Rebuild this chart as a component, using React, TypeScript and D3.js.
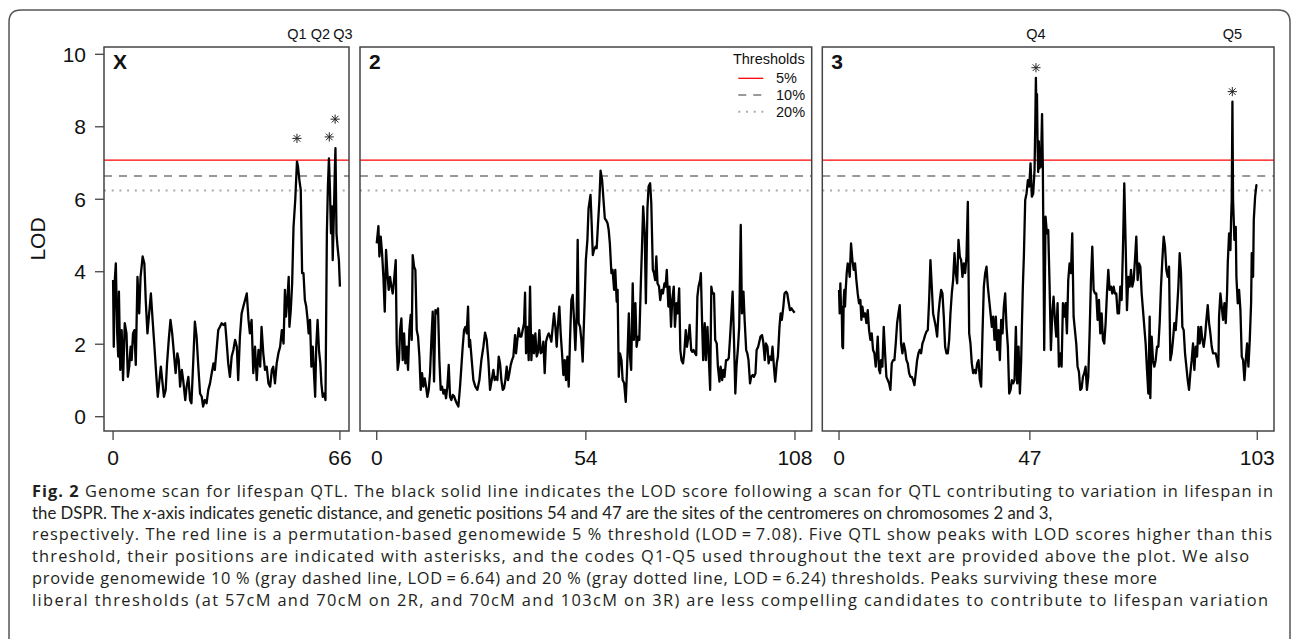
import React from "react";
import * as d3 from "d3";

// ---------- data (cM position, LOD) ----------
const chrXScan: [number, number][] = [[0,3.77],[0.2,1.93],[0.5,3.77],[0.8,4.23],[1.2,2.30],[1.5,1.66],[1.7,3.45],[2.1,1.29],[2.5,2.39],[2.9,1.01],[3.4,2.58],[3.9,2.30],[4.3,1.10],[4.7,1.38],[5.1,1.93],[5.4,1.56],[5.8,2.30],[6.2,2.39],[6.6,1.43],[7.1,3.86],[7.6,2.85],[8.0,3.86],[8.6,4.42],[9.1,4.23],[9.5,3.22],[10.0,2.30],[10.5,2.85],[11.0,3.40],[11.5,2.67],[12.1,1.84],[12.6,1.10],[13.0,0.55],[13.4,0.92],[13.9,1.38],[14.3,1.01],[14.8,0.55],[15.3,0.74],[15.7,1.47],[16.2,2.12],[16.7,2.67],[17.2,2.30],[17.7,1.75],[18.2,1.20],[18.7,1.75],[19.1,1.56],[19.5,0.83],[20.0,1.29],[20.4,1.01],[21.0,0.46],[21.4,0.83],[21.9,1.10],[22.4,0.46],[22.8,0.37],[23.3,1.47],[23.8,2.62],[24.3,2.21],[24.8,1.38],[25.3,0.64],[25.8,0.55],[26.2,0.28],[26.7,0.46],[27.2,0.37],[27.7,0.74],[28.2,0.92],[28.7,1.20],[29.2,1.47],[29.6,1.29],[30.1,1.84],[30.6,2.39],[31.1,2.48],[31.6,2.58],[32.1,2.53],[32.6,2.58],[33.0,2.12],[33.5,1.47],[34.0,1.10],[34.5,1.66],[35.0,1.84],[35.5,2.12],[36.0,1.93],[36.4,1.01],[36.9,2.21],[37.4,2.85],[37.9,3.04],[38.4,3.22],[38.9,3.40],[39.4,2.67],[39.8,2.30],[40.3,2.67],[40.8,1.20],[41.3,1.93],[41.8,1.01],[42.3,1.84],[42.8,1.38],[43.2,2.48],[43.7,1.75],[44.2,1.29],[44.7,1.38],[45.2,0.92],[45.7,0.83],[46.2,1.29],[46.6,1.38],[47.1,0.92],[47.6,1.47],[48.1,1.75],[48.6,1.93],[49.1,2.39],[49.6,2.02],[50.0,3.50],[50.3,2.76],[50.7,3.22],[51.1,3.86],[51.3,2.48],[51.7,2.94],[52.1,3.68],[52.5,5.24],[53.0,5.98],[53.5,7.04],[53.8,6.90],[54.2,6.53],[54.6,6.26],[55.0,3.96],[55.4,3.96],[55.8,3.22],[56.2,3.04],[56.6,2.67],[56.9,2.30],[57.3,2.67],[57.7,1.38],[58.1,1.93],[58.5,1.10],[58.8,0.55],[59.1,1.93],[59.5,2.67],[59.9,1.84],[60.3,1.47],[60.6,0.92],[61.0,0.55],[61.4,0.64],[61.8,0.46],[62.2,5.06],[62.5,6.35],[62.8,7.13],[63.1,6.26],[63.4,5.06],[63.7,5.80],[63.9,4.32],[64.2,5.43],[64.5,6.72],[64.7,7.41],[65.0,5.06],[65.3,4.69],[65.7,4.32],[66.0,3.59]];

const chr2Scan: [number, number][] = [[0,4.78],[0.43,5.26],[0.69,4.42],[1.03,4.97],[1.38,4.51],[1.72,3.86],[2.07,2.90],[2.41,4.60],[2.75,3.96],[3.10,3.50],[3.44,3.86],[3.79,3.59],[4.13,3.40],[4.48,3.77],[4.91,4.32],[5.16,2.02],[5.42,1.29],[5.77,1.56],[6.02,2.39],[6.37,2.71],[6.71,1.56],[7.06,2.30],[7.40,1.47],[7.75,1.93],[8.09,1.29],[8.43,2.39],[8.78,2.81],[9.04,2.12],[9.29,4.46],[9.64,4.14],[9.98,4.05],[10.33,2.39],[10.67,2.21],[11.02,1.66],[11.36,0.74],[11.70,1.20],[12.05,0.83],[12.39,1.06],[12.74,0.83],[13.08,0.55],[13.43,0.74],[13.77,1.20],[14.11,2.12],[14.46,2.90],[14.80,0.97],[15.15,2.94],[15.49,2.85],[15.83,2.99],[16.18,1.56],[16.52,0.74],[16.87,0.83],[17.21,0.64],[17.56,0.74],[17.90,0.51],[18.24,0.83],[18.59,1.43],[18.93,0.55],[19.28,0.46],[19.62,0.60],[19.97,0.57],[20.31,0.46],[20.65,0.37],[21.08,0.28],[21.51,0.83],[21.86,1.38],[22.20,1.93],[22.55,2.39],[22.89,2.48],[23.24,2.30],[23.58,3.04],[23.84,1.93],[24.10,2.12],[24.53,1.56],[24.96,1.01],[25.47,0.83],[25.99,0.74],[26.51,1.01],[27.02,1.56],[27.54,1.93],[27.97,2.32],[28.40,2.12],[28.83,1.56],[29.26,0.74],[29.69,1.01],[30.12,1.29],[30.46,1.01],[30.81,1.10],[31.15,1.01],[31.50,1.66],[31.84,1.47],[32.19,1.01],[32.53,0.74],[32.87,0.78],[33.22,1.01],[33.56,1.38],[33.91,1.01],[34.25,1.20],[34.60,1.43],[34.94,1.56],[35.28,1.66],[35.71,2.25],[35.97,1.75],[36.32,2.12],[36.66,2.44],[37.01,2.21],[37.35,2.21],[37.69,2.39],[38.04,2.58],[38.30,3.42],[38.55,1.75],[38.90,2.48],[39.24,1.56],[39.59,3.59],[39.93,1.56],[40.28,2.25],[40.62,1.75],[40.96,2.30],[41.31,1.66],[41.65,1.79],[42.00,2.39],[42.34,1.75],[42.69,1.79],[43.03,2.07],[43.37,1.20],[43.72,2.07],[44.06,2.21],[44.41,2.30],[44.75,2.21],[45.09,2.07],[45.44,2.48],[45.78,2.85],[46.13,2.48],[46.47,1.93],[46.82,2.58],[47.16,3.04],[47.50,2.30],[47.85,1.75],[48.19,1.15],[48.54,1.56],[48.88,1.01],[49.23,1.66],[49.57,0.83],[49.91,2.12],[50.26,3.22],[50.60,3.36],[50.95,2.67],[51.29,1.84],[51.64,2.85],[51.89,4.88],[52.15,2.58],[52.50,2.48],[52.84,2.12],[53.18,1.52],[53.7,3.22],[54.0,4.32],[54.4,4.88],[54.7,5.75],[55.2,6.12],[55.4,5.61],[55.8,4.46],[56.1,4.60],[56.5,4.69],[56.8,4.65],[57.1,5.24],[57.5,5.98],[57.8,6.79],[58.2,6.53],[58.5,6.07],[58.9,5.47],[59.2,5.43],[59.6,5.34],[59.9,5.15],[60.2,4.78],[60.6,3.96],[60.9,4.05],[61.3,3.50],[61.6,4.05],[61.97,3.17],[62.2,3.50],[62.5,1.10],[62.8,1.75],[63.2,1.56],[63.5,1.01],[63.9,0.92],[64.3,0.41],[64.6,1.20],[65.1,2.85],[65.4,1.66],[65.7,1.29],[66.1,3.68],[66.4,2.12],[66.8,3.13],[67.1,1.93],[67.5,2.21],[67.8,2.12],[68.2,3.68],[68.5,4.69],[68.8,5.80],[69.2,5.06],[69.5,3.13],[69.9,5.75],[70.2,6.35],[70.6,6.44],[70.9,5.89],[71.3,4.05],[71.6,3.96],[71.9,3.77],[72.2,4.42],[72.5,3.68],[72.9,3.59],[73.2,3.22],[73.6,3.50],[73.9,3.40],[74.3,3.68],[74.6,3.59],[74.9,4.05],[75.3,3.04],[75.6,3.59],[76.0,2.48],[76.3,3.22],[76.7,3.59],[77.0,2.48],[77.4,3.13],[77.7,2.85],[78.1,3.54],[78.4,1.84],[78.7,1.56],[79.1,1.47],[79.4,1.75],[79.8,2.39],[80.1,1.93],[80.5,2.21],[80.8,2.53],[81.2,1.84],[81.5,1.79],[81.8,1.84],[82.2,1.75],[82.5,1.70],[82.8,3.31],[83.1,3.59],[83.5,3.77],[83.7,3.96],[84.0,2.67],[84.3,1.56],[84.7,2.58],[85.0,1.56],[85.4,2.48],[85.7,1.75],[86.1,0.74],[86.4,3.59],[86.7,3.40],[87.1,3.40],[87.4,2.12],[87.8,2.02],[88.1,1.38],[88.5,0.97],[88.8,1.38],[89.2,1.01],[89.5,1.29],[89.8,1.10],[90.2,1.56],[90.5,1.56],[90.9,1.61],[91.2,2.12],[91.6,2.85],[91.9,3.45],[92.3,1.93],[92.6,0.64],[92.9,1.38],[93.3,1.93],[93.6,2.48],[94.0,5.29],[94.3,2.85],[94.7,3.45],[95.0,2.67],[95.4,1.84],[95.7,1.75],[96.0,1.56],[96.4,0.92],[96.7,1.10],[97.1,1.15],[97.4,1.10],[97.8,1.20],[98.1,1.84],[98.5,1.93],[98.8,2.07],[99.1,2.21],[99.5,2.25],[99.8,2.07],[100.2,1.56],[100.5,2.02],[100.9,1.93],[101.2,1.47],[101.5,1.66],[101.9,1.56],[102.2,1.93],[102.6,1.33],[102.9,0.97],[103.3,1.47],[103.6,1.66],[104.0,2.48],[104.3,2.85],[104.6,2.67],[105.0,3.04],[105.3,3.40],[105.7,3.45],[106.0,3.40],[106.4,3.13],[106.7,2.94],[107.1,2.99],[107.4,2.94],[107.9,2.87]];

const chr3Scan: [number, number][] = [[0,3.50],[0.16,2.85],[0.33,3.68],[0.49,2.94],[0.66,3.04],[0.82,1.93],[0.99,1.89],[1.15,3.22],[1.31,3.50],[1.48,3.04],[1.64,3.50],[1.89,3.96],[2.14,4.23],[2.38,4.14],[2.63,3.86],[2.96,4.78],[3.29,4.32],[3.62,4.05],[3.94,4.23],[4.27,3.77],[4.60,3.40],[4.93,3.13],[5.26,3.22],[5.51,2.67],[5.75,3.04],[6.08,2.76],[6.41,2.85],[6.74,2.58],[7.07,2.94],[7.40,2.39],[7.72,2.12],[8.05,2.30],[8.38,1.84],[8.71,1.75],[9.04,1.38],[9.29,1.75],[9.53,2.21],[9.86,1.29],[10.11,1.20],[10.35,1.56],[10.68,1.38],[11.01,2.48],[11.34,1.75],[11.67,1.10],[12.00,1.01],[12.33,0.92],[12.65,0.74],[12.98,1.47],[13.31,1.56],[13.64,1.56],[13.97,2.02],[14.30,2.58],[14.63,2.85],[14.95,3.08],[15.28,2.02],[15.61,1.75],[15.94,2.02],[16.27,1.84],[16.60,1.56],[16.93,1.47],[17.26,1.20],[17.58,1.10],[17.91,1.10],[18.24,1.01],[18.57,0.87],[18.90,1.20],[19.23,1.56],[19.56,1.75],[19.88,1.84],[20.21,1.75],[20.54,2.02],[20.87,2.12],[21.20,2.25],[21.53,2.35],[21.86,2.39],[22.19,3.22],[22.51,4.32],[22.84,3.59],[23.17,2.85],[23.50,2.67],[23.83,2.48],[24.16,2.21],[24.49,2.85],[24.82,3.22],[25.14,3.50],[25.47,3.40],[25.80,2.76],[26.13,1.93],[26.46,1.75],[26.79,1.75],[27.12,2.12],[27.44,2.85],[27.77,3.40],[28.10,3.77],[28.43,4.51],[28.76,3.96],[29.09,3.68],[29.42,4.88],[29.75,4.42],[30.07,4.32],[30.40,3.86],[30.73,4.23],[31.06,3.96],[31.39,4.42],[31.72,5.93],[32.05,2.30],[32.37,2.02],[32.70,1.47],[33.03,1.20],[33.36,1.29],[33.69,1.20],[34.02,1.47],[34.35,1.56],[34.68,1.01],[35.00,0.83],[35.33,2.30],[35.66,3.59],[35.99,3.96],[36.32,4.14],[36.65,3.59],[36.98,3.22],[37.31,2.85],[37.63,2.48],[37.96,2.76],[38.29,2.12],[38.62,2.76],[38.95,1.84],[39.28,2.39],[39.61,1.56],[39.93,2.67],[40.26,2.30],[40.59,3.04],[40.92,3.40],[41.25,2.48],[41.58,1.93],[41.91,0.64],[42.24,0.74],[42.56,1.01],[42.89,0.92],[43.22,1.01],[43.55,2.48],[43.88,0.92],[44.21,1.93],[44.54,0.64],[44.86,1.56],[45.03,2.48],[45.27,3.59],[45.52,4.42],[45.85,5.98],[46.18,6.16],[46.51,6.53],[46.84,6.35],[47.16,6.99],[47.49,6.07],[47.82,6.16],[48.15,6.81],[48.32,8.00],[48.48,9.35],[48.6,8.5],[48.75,8.9],[48.9,7.45],[49.05,6.75],[49.2,7.6],[49.35,6.85],[49.5,7.2],[49.7,6.9],[49.85,7.6],[50.0,8.35],[50.2,6.8],[50.37,4.3],[50.53,1.84],[50.86,5.52],[51.19,5.06],[51.52,5.15],[51.86,3.59],[52.18,1.84],[52.51,2.85],[52.83,3.31],[53.16,2.67],[53.49,2.21],[53.82,3.13],[54.15,1.38],[54.48,1.75],[54.81,1.38],[55.14,3.13],[55.46,2.76],[55.79,3.13],[56.12,2.30],[56.45,3.77],[56.78,4.23],[57.11,3.96],[57.44,5.06],[57.77,2.76],[58.09,2.39],[58.42,2.02],[58.75,1.38],[59.08,1.24],[59.41,0.74],[59.74,0.78],[60.07,1.10],[60.39,1.20],[60.72,1.38],[61.05,0.74],[61.38,1.10],[61.71,2.30],[62.04,3.77],[62.37,4.69],[62.70,3.50],[63.02,3.40],[63.35,3.40],[63.68,2.67],[64.01,3.22],[64.34,2.30],[64.67,2.85],[65.00,2.12],[65.32,2.02],[65.65,2.58],[65.98,3.40],[66.31,4.05],[66.64,3.50],[66.97,3.59],[67.30,3.40],[67.63,3.59],[67.95,3.40],[68.28,3.40],[68.61,2.85],[68.94,2.85],[69.27,3.59],[69.60,3.22],[69.93,4.69],[70.25,6.44],[70.58,4.78],[70.91,2.94],[71.24,3.86],[71.57,3.59],[71.90,4.05],[72.23,3.59],[72.56,3.77],[72.88,4.32],[73.21,4.97],[73.54,3.77],[73.87,4.23],[74.20,4.14],[74.53,3.40],[74.86,2.94],[75.18,2.48],[75.51,2.02],[75.84,1.29],[76.17,0.64],[76.50,2.76],[76.66,0.51],[76.99,2.21],[77.32,1.56],[77.65,1.38],[77.98,1.56],[78.31,1.93],[78.64,1.93],[78.96,2.58],[79.29,3.59],[79.62,4.32],[79.95,4.97],[80.28,4.69],[80.61,4.05],[80.94,3.86],[81.27,4.14],[81.59,1.56],[81.92,1.75],[82.25,2.12],[82.58,2.58],[82.91,2.39],[83.24,2.94],[83.57,3.59],[83.89,4.51],[84.22,3.96],[84.55,2.48],[84.88,2.39],[85.21,1.75],[85.54,1.38],[85.87,1.01],[86.20,0.74],[86.52,1.20],[86.85,1.56],[87.18,2.02],[87.51,1.29],[87.84,1.93],[88.17,1.66],[88.50,2.48],[88.82,2.02],[89.15,2.48],[89.48,2.12],[89.81,1.93],[90.14,2.21],[90.47,2.67],[90.80,3.08],[91.13,2.58],[91.45,2.30],[91.78,1.93],[92.11,1.75],[92.44,1.75],[92.77,1.75],[93.10,1.56],[93.43,1.38],[93.59,2.76],[93.92,3.40],[94.25,3.04],[94.58,2.67],[94.91,3.13],[95.24,2.58],[95.56,3.40],[95.73,4.23],[96.06,5.06],[96.39,4.60],[96.55,5.43],[96.71,5.98],[96.88,8.69],[97.04,5.98],[97.37,4.88],[97.70,5.24],[97.86,3.86],[98.19,3.13],[98.52,3.50],[98.85,2.94],[99.18,1.66],[99.51,1.56],[99.84,1.01],[100.16,1.56],[100.49,2.02],[100.82,1.38],[101.15,2.12],[101.48,3.13],[101.64,4.51],[101.97,3.86],[102.14,5.43],[102.47,6.07],[102.79,6.39],[103.0,6.39]];

const chromNames = ["X", "2", "3"];
const chromLengths = [66, 108, 103];
const chromTicks = [[0, 66], [0, 54, 108], [0, 47, 103]];
const yTicks = [0, 2, 4, 6, 8, 10];

const thresholdLabels = ["5%", "10%", "20%"];
const thresholdValues = [7.08, 6.64, 6.24];

// QTL codes: panel index, label position (cM), asterisk position (cM, LOD)
const qtlCodes = ["Q1", "Q2", "Q3", "Q4", "Q5"];
const qtlPanel = [0, 0, 0, 2, 2];
const qtlLabelPos = [53.5, 60.3, 66.9, 48.5, 96.85];
const qtlStarPos = [53.5, 62.9, 64.6, 48.5, 96.85];
const qtlStarLod = [7.68, 7.72, 8.21, 9.63, 8.97];

const captionLines = [
  " Genome scan for lifespan QTL. The black solid line indicates the LOD score following a scan for QTL contributing to variation in lifespan in",
  "-axis indicates genetic distance, and genetic positions 54 and 47 are the sites of the centromeres on chromosomes 2 and 3,",
  "respectively. The red line is a permutation-based genomewide 5 % threshold (LOD\u2009=\u20097.08). Five QTL show peaks with LOD scores higher than this",
  "threshold, their positions are indicated with asterisks, and the codes Q1-Q5 used throughout the text are provided above the plot. We also",
  "provide genomewide 10 % (gray dashed line, LOD\u2009=\u20096.64) and 20 % (gray dotted line, LOD\u2009=\u20096.24) thresholds. Peaks surviving these more",
  "liberal thresholds (at 57cM and 70cM on 2R, and 70cM and 103cM on 3R) are less compelling candidates to contribute to lifespan variation",
];

// ---------- layout ----------
const W = 1292, H = 639;
const boxTop = 47, boxBottom = 431;
const panelBoxes: [number, number][] = [[104, 349], [360, 811.7], [822.3, 1274]];
const scans = [chrXScan, chr2Scan, chr3Scan];
const FONT = "'Liberation Sans', Arial, Helvetica, sans-serif";
const CAPFONT = "'Open Sans', Lato, sans-serif";
const CAPFONT_NARROW = "Lato, 'Open Sans', sans-serif";
const captionWidths = [1241, 0, 1240, 1217, 1125, 1236];

const yScale = d3.scaleLinear().domain([0, 10]).range([416.7, 54.3]);

function Asterisk({ cx, cy }: { cx: number; cy: number }) {
  const r = 4.6, d = r * 0.72;
  return (
    <g stroke="#222" strokeWidth={1}>
      <line x1={cx - r} y1={cy} x2={cx + r} y2={cy} />
      <line x1={cx} y1={cy - r} x2={cx} y2={cy + r} />
      <line x1={cx - d} y1={cy - d} x2={cx + d} y2={cy + d} />
      <line x1={cx - d} y1={cy + d} x2={cx + d} y2={cy - d} />
    </g>
  );
}

export default function App() {
  const xScales = chromLengths.map((len, i) =>
    d3.scaleLinear().domain([-0.04 * len, 1.04 * len]).range(panelBoxes[i])
  );
  const threshStyles = [
    { stroke: "#ff0000", width: 1.3, dash: undefined as string | undefined },
    { stroke: "#999999", width: 2, dash: "8,7" },
    { stroke: "#aaaaaa", width: 2, dash: "2,5.7" },
  ];

  return (
    <svg width={W} height={H} style={{ display: "block", position: "absolute", left: 0, top: 0 }} fontFamily={FONT}>
      <rect x={0} y={0} width={W} height={H} fill="#fff" />
      {/* outer frame */}
      <path d={`M9,${H + 2} L9,22 Q9,10 21,10 L1278,10 Q1290,10 1290,22 L1290,${H + 2}`} fill="none" stroke="#555" strokeWidth={1.5} />

      {scans.map((scan, i) => {
        const xs = xScales[i];
        const [bx0, bx1] = panelBoxes[i];
        const line = d3.line<[number, number]>().x(d => xs(d[0])).y(d => yScale(d[1]));
        return (
          <g key={i}>
            {thresholdValues.map((v, k) => (
              <line key={k} x1={bx0} x2={bx1} y1={yScale(v)} y2={yScale(v)}
                stroke={threshStyles[k].stroke} strokeWidth={threshStyles[k].width}
                strokeDasharray={threshStyles[k].dash} />
            ))}
            <path d={line(scan) || ""} fill="none" stroke="#000" strokeWidth={2.3} strokeLinejoin="round" />
            <rect x={bx0} y={boxTop} width={bx1 - bx0} height={boxBottom - boxTop} fill="none" stroke="#444" strokeWidth={1.5} />
            <text x={bx0 + 9} y={69} fontSize={21} fontWeight="bold" fill="#111">{chromNames[i]}</text>
            {chromTicks[i].map(t => (
              <g key={t}>
                <line x1={xs(t)} x2={xs(t)} y1={boxBottom} y2={boxBottom + 9} stroke="#444" strokeWidth={1.3} />
                <text x={xs(t)} y={465} fontSize={21} textAnchor="middle" fill="#111">{t}</text>
              </g>
            ))}
          </g>
        );
      })}

      {/* y axis */}
      {yTicks.map(t => (
        <g key={t}>
          <line x1={95} x2={104} y1={yScale(t)} y2={yScale(t)} stroke="#444" strokeWidth={1.3} />
          <text x={86} y={yScale(t) + 7.5} fontSize={21} textAnchor="end" fill="#111">{t}</text>
        </g>
      ))}
      <text transform={`translate(45,${239}) rotate(-90)`} fontSize={21} textAnchor="middle" fill="#111">LOD</text>

      {/* QTL labels and asterisks */}
      {qtlCodes.map((q, k) => {
        const xs = xScales[qtlPanel[k]];
        return (
          <g key={q}>
            <text x={xs(qtlLabelPos[k])} y={38.5} fontSize={14.5} textAnchor="middle" fill="#111">{q}</text>
            <Asterisk cx={xs(qtlStarPos[k])} cy={yScale(qtlStarLod[k])} />
          </g>
        );
      })}

      {/* legend in panel 2 */}
      <text x={768.8} y={63.5} fontSize={14.5} textAnchor="middle" fill="#111">Thresholds</text>
      {thresholdLabels.map((lab, k) => {
        const y = 78.3 + k * 16.7;
        return (
          <g key={lab}>
            <line x1={738.3} x2={763.3} y1={y} y2={y} stroke={threshStyles[k].stroke}
              strokeWidth={threshStyles[k].width} strokeDasharray={threshStyles[k].dash} />
            <text x={776} y={y + 5} fontSize={14.5} fill="#111">{lab}</text>
          </g>
        );
      })}

      {/* caption */}
      <g fontFamily={CAPFONT} fontSize={16.4} fill="#231f20">
        {captionLines.map((ln, i) => {
          const y = 497 + i * 21.7;
          if (i === 1)
            return (
              <text key={i} x={32} y={y} fontFamily={CAPFONT_NARROW} fontSize={16.8}>
                {"the DSPR. The "}<tspan fontStyle="italic">x</tspan>{ln}
              </text>
            );
          const common = { x: 32, y, textLength: captionWidths[i], lengthAdjust: "spacing" as const };
          if (i === 0) return <text key={i} {...common}><tspan fontWeight="bold">Fig. 2</tspan>{ln}</text>;
          return <text key={i} {...common}>{ln}</text>;
        })}
      </g>
    </svg>
  );
}
